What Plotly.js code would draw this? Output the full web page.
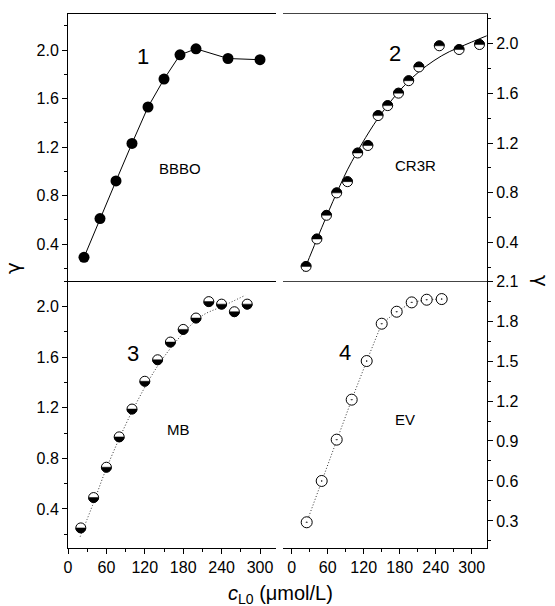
<!DOCTYPE html>
<html><head><meta charset="utf-8">
<script src="https://cdn.plot.ly/plotly-3.0.1.min.js"></script>
<style>html,body{margin:0;padding:0;background:#fff}</style>
</head><body><div id="chart" style="width:555px;height:606px"></div>
<script>
// Panel 1: BBBO
const bbboX = [25, 50, 75, 100, 125, 150, 175, 200, 250, 300];
const bbboY = [0.29, 0.61, 0.92, 1.23, 1.53, 1.76, 1.96, 2.01, 1.93, 1.92];
// Panel 2: CR3R
const cr3rX = [24, 42, 58, 75, 93, 110, 127, 144, 160, 178, 195, 212, 246, 279, 313];
const cr3rY = [0.21, 0.43, 0.62, 0.80, 0.89, 1.12, 1.18, 1.42, 1.50, 1.60, 1.70, 1.81, 1.98, 1.95, 1.99];
const cr3rFitX = [20, 50, 75, 100, 150, 200, 250, 300, 325];
const cr3rFitY = [0.17, 0.52, 0.80, 1.05, 1.44, 1.72, 1.90, 2.01, 2.06];
// Panel 3: MB
const mbX = [20, 40, 60, 80, 100, 120, 140, 160, 180, 200, 220, 240, 260, 280];
const mbY = [0.25, 0.49, 0.73, 0.97, 1.19, 1.41, 1.58, 1.72, 1.82, 1.91, 2.04, 2.02, 1.96, 2.02];
const mbFitX = [19, 40, 60, 100, 140, 180, 210, 240, 277];
const mbFitY = [0.18, 0.45, 0.72, 1.17, 1.53, 1.79, 1.93, 2.00, 2.09];
// Panel 4: EV
const evX = [25, 50, 75, 100, 125, 150, 175, 200, 225, 250];
const evY = [0.29, 0.60, 0.91, 1.21, 1.50, 1.78, 1.87, 1.94, 1.96, 1.965];

const panelNums = ['1', '2', '3', '4'];
const panelNames = ['BBBO', 'CR3R', 'MB', 'EV'];
const xTitle = '<i>c</i><sub>L0</sub> (μmol/L)';
const yTitle = 'γ';

const W = 555, H = 606;
const px = v => v / W;
const py = v => 1 - v / H;
const FONT = 'Liberation Sans, Arial, sans-serif';

const base = {
  showgrid: false, zeroline: false, showline: true, linecolor: '#000', linewidth: 1,
  tickcolor: '#000', ticklen: 5, tickwidth: 1, ticks: 'outside',
  tickfont: {family: FONT, size: 16, color: '#000'}
};
const LX = [px(68), px(276)], RX = [px(283), px(487)];
const TY = [py(281), py(14)], BY = [py(548), py(281)];

const layout = {
  width: W, height: H, margin: {l: 0, r: 0, t: 0, b: 0},
  paper_bgcolor: '#fff', plot_bgcolor: 'rgba(0,0,0,0)', showlegend: false,
  xaxis: Object.assign({}, base, {domain: LX, range: [0, 325], anchor: 'y', mirror: true, ticks: '', showticklabels: false}),
  yaxis: Object.assign({}, base, {domain: TY, range: [0.095, 2.297], anchor: 'x', tick0: 0.4, dtick: 0.4, tickformat: '.1f',
    minor: {dtick: 0.2, ticks: 'outside', ticklen: 3, tickcolor: '#000'}}),
  xaxis2: Object.assign({}, base, {domain: LX, range: [0, 325], anchor: 'y2', mirror: false, tick0: 0, dtick: 60,
    minor: {dtick: 30, ticks: 'outside', ticklen: 3, tickcolor: '#000'}}),
  yaxis2: Object.assign({}, base, {domain: BY, range: [0.091, 2.203], anchor: 'x2', tick0: 0.4, dtick: 0.4, tickformat: '.1f',
    minor: {dtick: 0.2, ticks: 'outside', ticklen: 3, tickcolor: '#000'}}),
  xaxis3: Object.assign({}, base, {domain: RX, range: [-14.5, 325.5], anchor: 'y3', mirror: true, ticks: '', showticklabels: false, linecolor: '#444'}),
  yaxis3: Object.assign({}, base, {domain: TY, range: [0.093, 2.235], anchor: 'x3', side: 'right', tick0: 0.4, dtick: 0.4, tickformat: '.1f',
    minor: {dtick: 0.2, ticks: 'outside', ticklen: 3, tickcolor: '#000'}}),
  xaxis4: Object.assign({}, base, {domain: RX, range: [-14.5, 325.5], anchor: 'y4', mirror: false, tick0: 0, dtick: 60,
    minor: {dtick: 30, ticks: 'outside', ticklen: 3, tickcolor: '#000'}}),
  yaxis4: Object.assign({}, base, {domain: BY, range: [0.097, 2.1005], anchor: 'x4', side: 'right', tick0: 0.3, dtick: 0.3, tickformat: '.1f',
    minor: {dtick: 0.15, ticks: 'outside', ticklen: 3, tickcolor: '#000'}}),
  annotations: [],
  shapes: []
};

const numPos = [[143, 57], [395, 53], [133, 353], [345, 352]];
const namePos = [[180, 168], [415, 165], [178, 429], [405, 420]];
for (let i = 0; i < 4; i++) {
  layout.annotations.push({xref: 'paper', yref: 'paper', x: px(numPos[i][0]), y: py(numPos[i][1]), text: panelNums[i],
    showarrow: false, xanchor: 'center', yanchor: 'middle', font: {family: FONT, size: 22, color: '#000'}});
  layout.annotations.push({xref: 'paper', yref: 'paper', x: px(namePos[i][0]), y: py(namePos[i][1]), text: panelNames[i],
    showarrow: false, xanchor: 'center', yanchor: 'middle', font: {family: FONT, size: 15, color: '#000'}});
}
layout.annotations.push({xref: 'paper', yref: 'paper', x: px(280), y: py(594), text: xTitle, showarrow: false,
  xanchor: 'center', yanchor: 'middle', font: {family: FONT, size: 20, color: '#000'}});
layout.annotations.push({xref: 'paper', yref: 'paper', x: px(13), y: py(268), text: yTitle, showarrow: false, textangle: -90,
  xanchor: 'center', yanchor: 'middle', font: {family: 'DejaVu Sans, sans-serif', size: 20, color: '#000'}});
layout.annotations.push({xref: 'paper', yref: 'paper', x: px(541), y: py(281), text: yTitle, showarrow: false, textangle: 90,
  xanchor: 'center', yanchor: 'middle', font: {family: 'DejaVu Sans, sans-serif', size: 20, color: '#000'}});

function halfShapes(xs, ys, xref, yref, r, top) {
  const k = 0.5523 * r, s = top ? 1 : -1;
  const path = `M ${-r},0 C ${-r},${s * k} ${-k},${s * r} 0,${s * r} C ${k},${s * r} ${r},${s * k} ${r},0 Z`;
  return xs.map((x, i) => ({type: 'path', xref: xref, yref: yref, xsizemode: 'pixel', ysizemode: 'pixel',
    xanchor: x, yanchor: ys[i], path: path, fillcolor: '#000', line: {color: '#000', width: 0.5}, layer: 'above'}));
}
layout.shapes = layout.shapes.concat(halfShapes(cr3rX, cr3rY, 'x3', 'y3', 5, true));
layout.shapes = layout.shapes.concat(halfShapes(mbX, mbY, 'x2', 'y2', 5, false));

const data = [
  {x: bbboX, y: bbboY, xaxis: 'x', yaxis: 'y', mode: 'lines+markers', line: {color: '#000', width: 1},
    marker: {symbol: 'circle', size: 11, color: '#000'}},
  {x: cr3rFitX, y: cr3rFitY, xaxis: 'x3', yaxis: 'y3', mode: 'lines', line: {color: '#000', width: 1, shape: 'spline', smoothing: 1}},
  {x: cr3rX, y: cr3rY, xaxis: 'x3', yaxis: 'y3', mode: 'markers',
    marker: {symbol: 'circle', size: 10, color: '#fff', line: {color: '#000', width: 1}}},
  {x: mbFitX, y: mbFitY, xaxis: 'x2', yaxis: 'y2', mode: 'lines', line: {color: '#333', width: 1, dash: '1px,2px', shape: 'spline', smoothing: 1}},
  {x: mbX, y: mbY, xaxis: 'x2', yaxis: 'y2', mode: 'markers',
    marker: {symbol: 'circle', size: 10, color: '#fff', line: {color: '#000', width: 1}}},
  {x: evX, y: evY, xaxis: 'x4', yaxis: 'y4', mode: 'lines+markers', line: {color: '#333', width: 1, dash: '1px,2px'},
    marker: {symbol: 'circle-dot', size: 11, color: '#fff', line: {color: '#000', width: 1}}}
];

Plotly.newPlot('chart', data, layout, {staticPlot: true, displayModeBar: false});
</script>
</body></html>
